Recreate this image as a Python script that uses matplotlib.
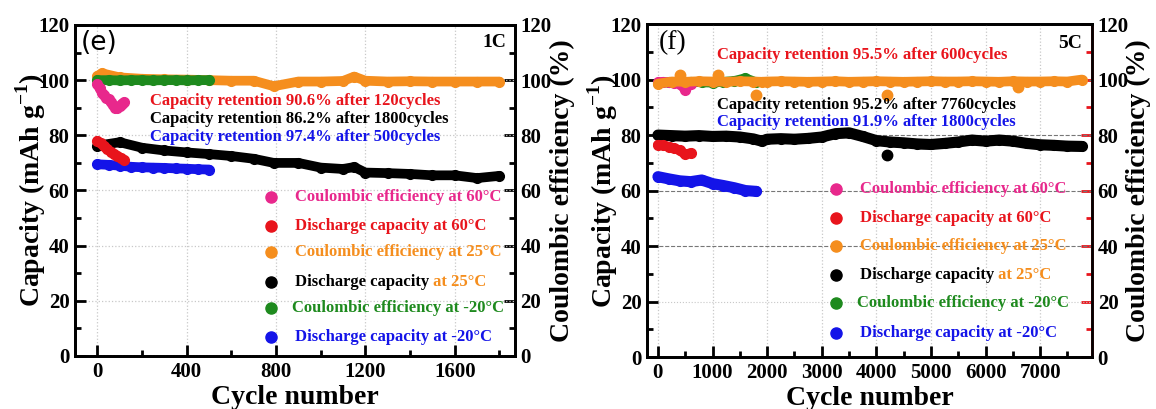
import matplotlib
matplotlib.use("Agg")
import matplotlib.pyplot as plt
from matplotlib.ticker import MultipleLocator

plt.rcParams['font.family'] = ['Liberation Serif', 'DejaVu Serif']
plt.rcParams['font.weight'] = 'bold'
plt.rcParams['mathtext.fontset'] = 'custom'
plt.rcParams['mathtext.rm'] = 'Liberation Serif:bold'
plt.rcParams['mathtext.bf'] = 'Liberation Serif:bold'

PINK = '#e8288c'
RED = '#e8141c'
ORANGE = '#f58e1e'
BLACK = '#000000'
GREEN = '#1e8a1e'
BLUE = '#1414e8'

# ---------------- panel (e), 1C ----------------
e_cyc_ce60 = [0, 10, 20, 30, 40, 50, 60, 70, 80, 90, 100, 110, 120]
e_ce60 = [98.5, 97.0, 95.5, 94.5, 93.5, 93.0, 92.0, 91.0, 90.0, 90.0, 90.5, 91.5, 92.0]

e_cyc_dc60 = [0, 15, 30, 45, 60, 75, 90, 105, 120]
e_dc60 = [78.0, 77.2, 76.0, 75.0, 74.0, 73.2, 72.5, 71.8, 71.0]

e_cyc_25 = [0, 20, 100, 200, 300, 400, 500, 600, 700, 790, 900, 1000, 1100,
            1150, 1200, 1300, 1400, 1500, 1600, 1700, 1800]
e_ce25 = [101.5, 102.5, 101.0, 100.5, 100.3, 100.2, 100.0, 99.8, 99.8, 97.8, 99.5,
          99.5, 99.7, 101.3, 99.8, 99.5, 99.6, 99.5, 99.5, 99.5, 99.5]
e_dc25 = [76.0, 76.5, 77.5, 75.5, 74.5, 73.8, 73.2, 72.5, 71.5, 70.0, 70.0, 68.3,
          67.8, 68.5, 66.5, 66.3, 66.0, 65.5, 65.5, 64.5, 65.3]

e_cyc_m20 = [0, 50, 100, 150, 200, 250, 300, 350, 400, 450, 500]
e_cem20 = [100.0, 100.0, 99.9, 100.0, 100.0, 99.9, 100.0, 100.0, 99.9, 100.0, 100.0]
e_dcm20 = [69.5, 69.3, 69.0, 68.6, 68.4, 68.3, 68.2, 68.0, 67.9, 67.7, 67.6]

# ---------------- panel (f), 5C ----------------
f_cyc_60 = [0, 100, 200, 300, 400, 500, 600]
f_ce60 = [99.0, 99.2, 99.0, 98.8, 98.5, 96.3, 98.5]
f_dc60 = [76.5, 76.3, 75.8, 75.2, 74.5, 73.0, 73.5]

f_cyc_25 = [0, 250, 500, 750, 1000, 1250, 1500, 1750, 1900, 2000, 2250, 2500, 2750,
            3000, 3250, 3500, 3750, 4000, 4250, 4500, 4750, 5000, 5250, 5500, 5750,
            6000, 6250, 6500, 6750, 7000, 7250, 7500, 7760]
f_ce25 = [98.5, 99.3, 99.2, 99.4, 99.3, 99.2, 99.4, 99.3, 99.2, 99.3, 99.4, 99.3, 99.2,
          99.3, 99.4, 99.2, 99.3, 99.4, 99.3, 99.2, 99.3, 99.4, 99.3, 99.3, 99.4,
          99.3, 99.2, 99.4, 99.3, 99.3, 99.4, 99.3, 100.0]
f_dc25 = [80.0, 79.8, 79.6, 79.8, 79.5, 79.6, 79.3, 78.6, 77.8, 78.5, 78.7, 78.5, 78.8,
          79.3, 80.5, 80.8, 79.5, 78.0, 77.5, 77.2, 76.8, 76.6, 77.0, 77.5, 78.2,
          77.8, 78.2, 77.8, 77.0, 76.5, 76.3, 76.0, 75.9]

f_cyc_ce25_out = [400, 1100, 1800, 4200, 6600]
f_ce25_out = [101.5, 101.8, 94.3, 94.3, 97.3]
f_cyc_dc25_out = [4200]
f_dc25_out = [72.8]

f_cyc_m20 = [0, 200, 400, 600, 800, 1000, 1200, 1400, 1600, 1800]
f_cem20 = [98.8, 99.0, 98.8, 99.2, 99.0, 98.9, 99.2, 99.5, 100.5, 99.0]
f_dcm20 = [65.0, 64.2, 63.5, 63.2, 63.8, 62.5, 61.8, 61.0, 60.0, 59.7]

LEGEND = [
    ('Coulombic efficiency at 60\u00b0C', PINK),
    ('Discharge capacity at 60\u00b0C', RED),
    ('Coulombic efficiency at 25\u00b0C', ORANGE),
    ('Discharge capacity', BLACK),
    ('Coulombic efficiency at -20\u00b0C', GREEN),
    ('Discharge capacity at -20\u00b0C', BLUE),
]

fig = plt.figure(figsize=(11.56, 4.09), dpi=100)


def band(ax, x, y, color, lw=7, ms=7, z=2):
    ax.plot(x, y, '-o', color=color, lw=lw, ms=ms, mec=color,
            solid_capstyle='round', solid_joinstyle='round', zorder=z, clip_on=False)


def dots(ax, x, y, color, ms=7.5, z=3):
    ax.plot(x, y, 'o', color=color, ms=ms, mec=color, zorder=z)


def style(ax, ax2, xmaj, xmin, xlim, right_color):
    ax.set_ylim(0, 120)
    ax2.set_ylim(0, 120)
    ax.set_xlim(*xlim)
    ax.xaxis.set_major_locator(MultipleLocator(xmaj))
    ax.xaxis.set_minor_locator(MultipleLocator(xmin))
    for a in (ax, ax2):
        a.yaxis.set_major_locator(MultipleLocator(20))
        a.yaxis.set_minor_locator(MultipleLocator(10))
        a.tick_params(axis='both', which='major', direction='in', length=8, width=2,
                      labelsize=15, pad=4)
        a.tick_params(axis='both', which='minor', direction='in', length=4, width=2)
    ax.tick_params(top=False, which='both')
    ax2.tick_params(axis='y', which='both', color=right_color)
    for s in ax.spines.values():
        s.set_linewidth(2)
    for s in ax2.spines.values():
        s.set_linewidth(2)
    ax2.spines['right'].set_color(right_color)
    for lab in ax.get_xticklabels() + ax.get_yticklabels() + ax2.get_yticklabels():
        lab.set_fontweight('bold')
    ax.set_xlabel('Cycle number', fontsize=20, fontweight='bold')
    ax.set_ylabel('Capacity (mAh g$^{-1}$)', fontsize=20, fontweight='bold')
    ax2.set_ylabel('Coulombic efficiency (%)', fontsize=20, fontweight='bold')


def legend(ax, mx, tx, ys):
    for (label, color), y in zip(LEGEND, ys):
        ax.plot([mx], [y], 'o', color=color, ms=8, transform=ax.transAxes,
                clip_on=False, zorder=6)
        dx = -0.007 if 'at -20' in label and 'Coulombic' in label else 0
        t = ax.text(tx + dx, y, label, color=color, fontsize=12, fontweight='bold',
                    va='center', ha='left', transform=ax.transAxes, zorder=6)
        if label == 'Discharge capacity':
            ax.annotate(' at 25\u00b0C', xy=(1, 0.5), xycoords=t, color=ORANGE,
                        fontsize=12, fontweight='bold', va='center', ha='left',
                        zorder=6)


# ---------- left ----------
axL = fig.add_axes([0.0649, 0.1296, 0.3806, 0.8093])
axL2 = axL.twinx()
axL.set_zorder(axL2.get_zorder() + 1)
axL.patch.set_visible(False)
style(axL, axL2, 400, 200, (-100, 1870), BLACK)
axL.grid(True, which='major', ls=':', color='#c8c8c8', lw=0.9)

band(axL, e_cyc_25, e_ce25, ORANGE)
band(axL, e_cyc_m20, e_cem20, GREEN)
band(axL, e_cyc_ce60, e_ce60, PINK)
band(axL, e_cyc_25, e_dc25, BLACK)
band(axL, e_cyc_m20, e_dcm20, BLUE)
band(axL, e_cyc_dc60, e_dc60, RED)

axL.text(0.17, 0.770, 'Capacity retention 90.6% after 120cycles', color=RED,
         fontsize=12, fontweight='bold', va='center', transform=axL.transAxes)
axL.text(0.17, 0.716, 'Capacity retention 86.2% after 1800cycles', color=BLACK,
         fontsize=12, fontweight='bold', va='center', transform=axL.transAxes)
axL.text(0.17, 0.662, 'Capacity retention 97.4% after 500cycles', color=BLUE,
         fontsize=12, fontweight='bold', va='center', transform=axL.transAxes)
axL.text(0.014, 0.946, '(e)', family='DejaVu Sans', fontweight='normal', fontsize=19,
         va='center', ha='left', transform=axL.transAxes)
axL.text(0.98, 0.946, '1C', fontsize=14, fontweight='bold', va='center', ha='right',
         transform=axL.transAxes)
legend(axL, 0.445, 0.5, [0.480, 0.393, 0.314, 0.224, 0.145, 0.057])

axL.yaxis.set_label_coords(-0.061, 0.5)
axL2.yaxis.set_label_coords(1.08, 0.5)
axL.xaxis.set_label_coords(0.5, -0.088)

# ---------- right ----------
axR = fig.add_axes([0.5597, 0.1271, 0.385, 0.814])
axR2 = axR.twinx()
axR.set_zorder(axR2.get_zorder() + 1)
axR.patch.set_visible(False)
style(axR, axR2, 1000, 500, (-200, 7950), RED)
axR.xaxis.grid(True, which='major', ls=':', color='#c8c8c8', lw=0.9)
axR.yaxis.grid(True, which='major', ls='--', color='#777777', lw=0.8)
for i, gl in enumerate(axR.get_ygridlines()):
    if i == 2:
        gl.set_color('#c8c8c8')
        gl.set_linestyle(':')

band(axR, f_cyc_m20, f_cem20, GREEN)
band(axR, f_cyc_60, f_ce60, PINK)
band(axR, f_cyc_25, f_ce25, ORANGE)
dots(axR, f_cyc_ce25_out, f_ce25_out, ORANGE)
band(axR, f_cyc_25, f_dc25, BLACK, lw=8)
dots(axR, f_cyc_dc25_out, f_dc25_out, BLACK)
band(axR, f_cyc_60, f_dc60, RED)
band(axR, f_cyc_m20, f_dcm20, BLUE, lw=8)

axR.text(0.157, 0.907, 'Capacity retention 95.5% after 600cycles', color=RED,
         fontsize=12, fontweight='bold', va='center', transform=axR.transAxes)
axR.text(0.157, 0.757, 'Capacity retention 95.2% after 7760cycles', color=BLACK,
         fontsize=12, fontweight='bold', va='center', transform=axR.transAxes)
axR.text(0.157, 0.706, 'Capacity retention 91.9% after 1800cycles', color=BLUE,
         fontsize=12, fontweight='bold', va='center', transform=axR.transAxes)
axR.text(0.027, 0.943, '(f)', fontweight='normal', fontsize=20, va='center',
         ha='left', transform=axR.transAxes)
axR.text(0.978, 0.943, '5C', fontsize=14, fontweight='bold', va='center', ha='right',
         transform=axR.transAxes)
legend(axR, 0.425, 0.479, [0.505, 0.417, 0.333, 0.246, 0.162, 0.072])

axR.yaxis.set_label_coords(-0.061, 0.5)
axR2.yaxis.set_label_coords(1.077, 0.5)
axR.xaxis.set_label_coords(0.5, -0.086)

fig.savefig('out.png', dpi=100)
